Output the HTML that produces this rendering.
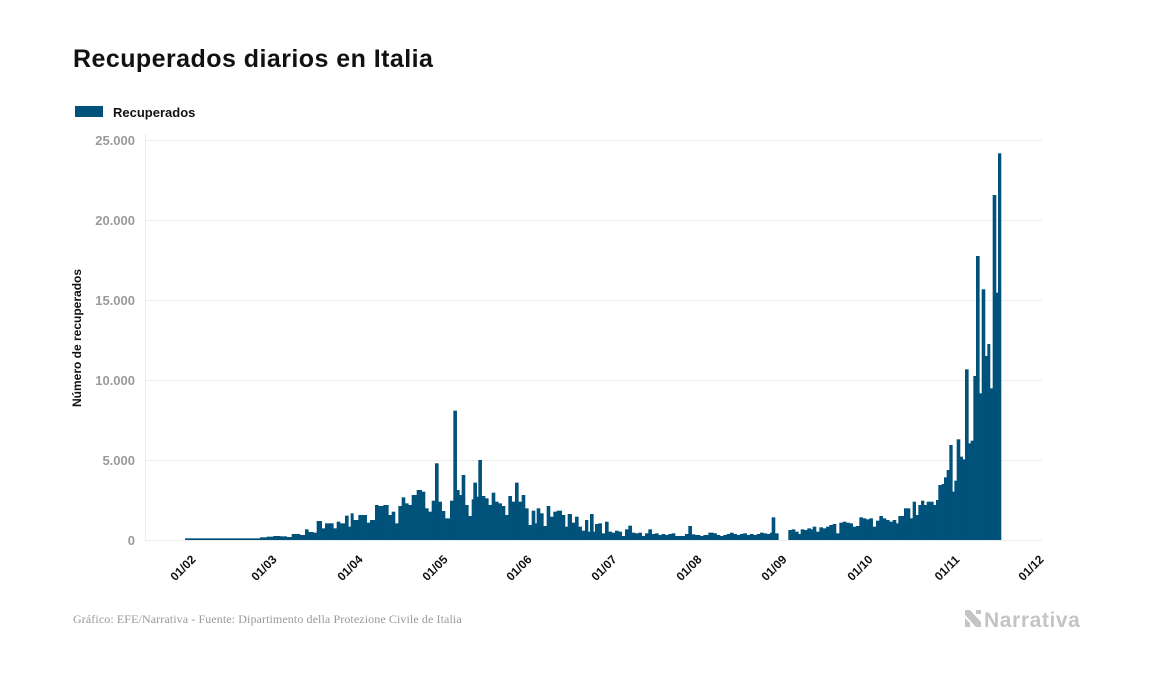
<!DOCTYPE html>
<html><head><meta charset="utf-8"><style>
body{margin:0;background:#fff;width:1157px;height:674px;overflow:hidden;font-family:"Liberation Sans",sans-serif}
</style></head><body>
<svg id="s" width="1157" height="674" xmlns="http://www.w3.org/2000/svg" font-family="Liberation Sans, sans-serif">
<text x="73" y="67" font-size="25" font-weight="bold" fill="#111" letter-spacing="0.45">Recuperados diarios en Italia</text>
<rect x="75" y="106" width="28" height="11" fill="#00527a"/>
<text x="113" y="117" font-size="13" font-weight="bold" fill="#111">Recuperados</text>
<g stroke="#ececec" stroke-width="1">
<line x1="145" y1="140.5" x2="1042" y2="140.5"/>
<line x1="145" y1="220.5" x2="1042" y2="220.5"/>
<line x1="145" y1="300.5" x2="1042" y2="300.5"/>
<line x1="145" y1="380.5" x2="1042" y2="380.5"/>
<line x1="145" y1="460.5" x2="1042" y2="460.5"/>
<line x1="145" y1="540.5" x2="1042" y2="540.5"/>
<line x1="145.5" y1="134" x2="145.5" y2="540"/>
</g>
<g font-size="13" font-weight="bold" fill="#9a9a9a" text-anchor="end">
<text x="135" y="145">25.000</text>
<text x="135" y="225">20.000</text>
<text x="135" y="305">15.000</text>
<text x="135" y="385">10.000</text>
<text x="135" y="465">5.000</text>
<text x="135" y="545">0</text>
</g>
<text transform="translate(81 338) rotate(-90)" font-size="12" font-weight="bold" fill="#111" text-anchor="middle">Número de recuperados</text>
<g id="bars" fill="#00527a"></g>
<g font-size="12" font-weight="bold" fill="#111" text-anchor="middle" id="xl"></g>
<text x="73" y="623" font-size="12" fill="#999" font-family="Liberation Serif, serif" letter-spacing="0.1">Gráfico: EFE/Narrativa - Fuente: Dipartimento della Protezione Civile de Italia</text>
<g fill="#c4c4c4">
<polygon points="965,610 970,610 981,622 981,627 976,627 965,615"/>
<polygon points="965,618 970,623 970,627 965,627"/>
<polygon points="976,610 981,610 981,614 976,614"/>
<text x="984" y="627" font-size="21" font-weight="bold" letter-spacing="0.6">Narrativa</text>
</g>
</svg>
<script>
var A=[[135,475],[360,472],[380,470],[400,468],[420,469],[440,471],[455,462],[465,462],[480,465],[495,448],[505,456],[520,458],[530,423],[545,445],[555,430],[570,430],[580,445],[590,425],[600,430],[615,407],[625,440],[632,400],[640,420],[655,405],[665,405],[680,428],[690,420],[705,375],[715,378],[730,375],[745,405],[755,395],[765,430],[775,378],[785,352],[795,370],[805,375],[815,345],[830,330],[845,335],[855,385],[865,395],[875,362],[885,250],[895,365],[905,393],[915,415],[930,362],[940,92],[950,330],[958,345],[965,285],[975,375],[985,408],[995,358],[1000,308],[1010,350],[1015,240],[1025,348],[1035,355],[1045,375],[1055,338],[1065,365],[1075,370],[1085,378],[1095,405],[1105,348],[1115,365],[1125,308],[1135,365],[1145,345],[1155,385],[1165,435],[1175,392],[1185,430],[1190,385],[1200,400],[1210,438],[1220,378],[1230,410],[1240,395],[1250,392],[1265,405],[1275,440],[1283,402],[1295,428],[1305,410],[1315,440],[1325,452],[1335,420]];
var B=[[24,455],[30,402],[40,455],[45,432],[55,430],[65,460],[75,425],[85,455],[95,458],[105,452],[115,455],[125,468],[135,448],[145,437],[155,458],[165,460],[175,458],[185,468],[195,460],[205,448],[215,462],[225,460],[235,465],[245,462],[255,465],[265,462],[275,460],[285,468],[300,468],[315,462],[325,438],[335,463],[345,465],[360,468],[370,465],[385,458],[400,460],[410,465],[420,468],[430,465],[440,462],[450,458],[460,462],[470,465],[480,462],[490,460],[500,465],[510,462],[520,465],[530,462],[540,458],[550,460],[560,462],[570,458],[575,412],[585,460],[595,480],[625,450],[635,448],[645,455],[655,462],[662,448],[672,450],[682,445],[692,448],[698,440],[708,455],[718,442],[728,445],[738,440],[748,435],[758,432],[768,460],[778,428],[788,425],[798,428],[808,430],[818,440],[828,438],[838,412],[848,415],[858,418],[868,415],[878,440],[888,422],[898,408],[908,415],[918,420],[928,425],[938,420],[948,430],[955,408]];
var C=[[12,1135],[20,1135],[30,1165],[38,1115],[47,1155],[55,1125],[63,1112],[72,1125],[80,1115],[90,1115],[100,1125],[108,1110],[115,1065],[125,1062],[132,1042],[140,1020],[148,945],[157,1085],[163,1052],[170,928],[180,980],[188,988],[195,718],[205,940],[212,932],[220,738],[228,378],[238,790],[245,478],[255,678],[262,642],[270,775],[278,195],[288,488],[294,70],[303,1230]];
var P=[];
A.forEach(function(p){P.push([140+p[0]/3,380+p[1]/3]);});
B.forEach(function(p){P.push([580+p[0]/3,380+p[1]/3]);});
C.forEach(function(p){P.push([900+p[0]/3,130+p[1]/3]);});
var h='';
for(var i=0;i<P.length-1;i++){var x=P[i][0],w=P[i+1][0]-x,y=P[i][1];if(y<540)h+='<rect x="'+x.toFixed(2)+'" y="'+y.toFixed(2)+'" width="'+(w+0.3).toFixed(2)+'" height="'+(540-y).toFixed(2)+'"/>';}
document.getElementById('bars').innerHTML=h;
var L=[['01/02',183],['01/03',264],['01/04',350],['01/05',435],['01/06',519],['01/07',604],['01/08',689],['01/09',774],['01/10',860],['01/11',947],['01/12',1031]];
var t='';L.forEach(function(l){t+='<text x="'+l[1]+'" y="572" transform="rotate(-45 '+l[1]+' 568)">'+l[0]+'</text>';});
document.getElementById('xl').innerHTML=t;
</script>
</body></html>
